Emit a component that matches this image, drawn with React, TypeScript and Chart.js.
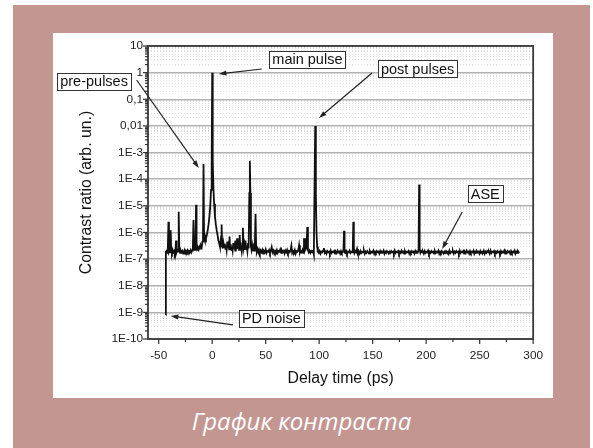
import React, { useEffect, useRef } from "react";
import { Chart, registerables } from "chart.js";

Chart.register(...registerables);

const PINK = "#c49692";
const FONT = "'Liberation Sans', Arial, sans-serif";

// ---- axes / ticks ----
const xTickValues = [-50, 0, 50, 100, 150, 200, 250, 300];
const xMinorTickValues = [-25, 25, 75, 125, 175, 225, 275];
const yTickValues = [10, 1, 0.1, 0.01, 1e-3, 1e-4, 1e-5, 1e-6, 1e-7, 1e-8, 1e-9, 1e-10];
const yTickLabels = ["10", "1", "0,1", "0,01", "1E-3", "1E-4", "1E-5", "1E-6", "1E-7", "1E-8", "1E-9", "1E-10"];
const yMinorMantissas = [2, 3, 4, 5, 6, 7, 8, 9];

// ---- trace: [delay (ps), contrast ratio] ----
const pdNoiseDrop: [number, number][] = [
  [-43.5, 8e-10], [-43.3, 1.9e-7],
];

const prePulseTrace: [number, number][] = [
  [-42.8, 2.0e-7], [-42.2, 1.7e-7], [-41.5, 2.1e-7], [-40.9, 2.5e-6], [-40.4, 1.9e-7], [-39.8, 2.2e-7],
  [-39.3, 1.8e-7], [-38.8, 1.2e-6], [-38.3, 2.0e-7], [-37.6, 1.7e-7], [-37.0, 2.2e-7], [-36.3, 1.8e-7],
  [-35.6, 2.0e-7], [-35.0, 1.6e-7], [-34.3, 2.1e-7], [-33.8, 5.0e-7], [-33.3, 1.8e-7], [-32.6, 2.2e-7],
  [-31.9, 1.9e-7], [-31.3, 6.0e-6], [-30.7, 2.0e-7], [-30.0, 1.7e-7], [-29.3, 2.1e-7], [-28.6, 1.8e-7],
  [-27.9, 2.0e-7], [-27.2, 1.6e-7], [-26.5, 1.9e-7], [-25.8, 2.2e-7], [-25.1, 1.7e-7], [-24.4, 2.0e-7],
  [-23.7, 1.8e-7], [-23.0, 2.1e-7], [-22.3, 1.7e-7], [-21.6, 2.0e-7], [-20.9, 1.9e-7], [-20.2, 2.2e-7],
  [-19.5, 1.8e-7], [-18.8, 2.1e-7], [-18.1, 2.3e-7], [-17.5, 2.9e-6], [-16.9, 2.2e-7], [-16.2, 2.6e-7],
  [-15.6, 2.4e-7], [-15.1, 1.1e-5], [-14.6, 2.5e-7], [-14.0, 2.2e-7], [-13.3, 2.7e-7], [-12.6, 2.3e-7],
  [-11.9, 2.9e-7], [-11.2, 2.5e-7], [-10.5, 3.2e-7], [-9.8, 2.8e-7], [-9.1, 4.5e-7], [-8.6, 7.0e-7],
  [-8.1, 3.7e-4], [-7.6, 6.0e-7], [-7.0, 5.0e-7], [-6.4, 7.0e-7],
];

const mainPulseTrace: [number, number][] = [
  [-5.8, 6.0e-7], [-5.0, 8.0e-7], [-4.2, 1.2e-6], [-3.4, 2.0e-6], [-2.6, 4.0e-6], [-1.8, 1.0e-5],
  [-1.1, 4.0e-5], [-0.5, 3.0e-4], [0.0, 1.0], [0.5, 5.0e-4], [1.1, 5.0e-5], [1.8, 1.2e-5],
  [2.6, 4.0e-6], [3.4, 2.0e-6], [4.2, 1.2e-6], [5.0, 8.0e-7], [5.8, 5.0e-7],
];

const postMainTrace: [number, number][] = [
  [6.5, 4.0e-7], [7.2, 3.0e-7], [7.8, 4.5e-7], [8.3, 3.0e-7], [8.8, 2.0e-6], [9.3, 3.5e-7],
  [9.9, 2.5e-7], [10.5, 4.0e-7], [11.1, 2.8e-7], [11.7, 3.8e-7], [12.3, 2.4e-7], [12.9, 3.3e-7],
  [13.5, 2.2e-7], [14.1, 4.5e-7], [14.7, 2.6e-7], [15.3, 3.5e-7], [15.8, 2.3e-7], [16.2, 7.0e-7],
  [16.7, 2.5e-7], [17.3, 3.6e-7], [17.9, 2.2e-7], [18.5, 3.0e-7], [19.1, 2.1e-7], [19.7, 4.0e-7],
  [20.3, 2.4e-7], [20.9, 3.2e-7], [21.5, 2.1e-7], [22.1, 5.0e-7], [22.7, 2.3e-7], [23.3, 6.0e-7],
  [23.9, 2.5e-7], [24.5, 3.4e-7], [25.1, 2.2e-7], [25.7, 8.0e-7], [26.3, 2.4e-7], [26.9, 3.1e-7],
  [27.5, 2.1e-7], [28.1, 4.0e-7], [28.7, 1.5e-6], [29.3, 2.6e-7], [29.9, 3.6e-7], [30.5, 2.2e-7],
  [31.1, 5.0e-7], [31.7, 2.4e-7], [32.3, 3.0e-7], [32.9, 2.0e-7], [33.5, 4.0e-7], [34.1, 2.5e-7],
  [34.7, 3.0e-5], [35.2, 4.9e-4], [35.7, 3.0e-5], [36.2, 3.0e-7], [36.8, 2.2e-7], [37.4, 3.2e-7],
  [38.0, 2.0e-7], [38.6, 2.8e-7], [39.2, 2.1e-7], [39.9, 3.5e-7], [40.5, 5.0e-6], [41.1, 2.6e-7],
  [41.7, 1.9e-7], [42.4, 2.4e-7], [43.1, 1.8e-7], [43.8, 2.2e-7], [44.5, 1.7e-7],
];

const midTrace: [number, number][] = [
  [45.2, 2.1e-7], [46.0, 1.8e-7], [46.8, 2.2e-7], [47.6, 1.6e-7], [48.4, 2.0e-7], [49.2, 1.8e-7],
  [50.0, 2.3e-7], [50.8, 1.7e-7], [51.6, 2.0e-7], [52.4, 1.9e-7], [53.2, 2.2e-7], [54.0, 1.7e-7],
  [54.8, 2.1e-7], [55.6, 2.8e-7], [56.4, 1.8e-7], [57.2, 2.1e-7], [58.0, 1.6e-7], [58.8, 2.0e-7],
  [59.6, 1.8e-7], [60.4, 2.2e-7], [61.2, 1.7e-7], [62.0, 2.0e-7], [62.8, 1.9e-7], [63.6, 2.3e-7],
  [64.4, 1.7e-7], [65.2, 2.1e-7], [66.0, 1.8e-7], [66.8, 2.0e-7], [67.6, 1.6e-7], [68.4, 2.1e-7],
  [69.2, 1.8e-7], [70.0, 2.2e-7], [70.8, 1.7e-7], [71.6, 2.0e-7], [72.4, 1.8e-7], [73.2, 2.1e-7],
  [74.0, 3.2e-7], [74.8, 1.7e-7], [75.6, 2.0e-7], [76.4, 1.8e-7], [77.2, 2.2e-7], [78.0, 1.6e-7],
  [78.8, 2.0e-7], [79.6, 1.9e-7], [80.4, 2.1e-7], [81.2, 3.3e-7], [82.0, 1.7e-7], [82.8, 2.0e-7],
  [83.6, 1.8e-7], [84.4, 2.2e-7], [85.2, 1.7e-7], [85.8, 6.0e-7], [86.4, 2.0e-7], [87.0, 2.3e-7],
  [87.4, 6.0e-7], [88.0, 2.4e-7], [88.9, 1.6e-6], [89.5, 2.2e-7], [90.2, 1.8e-7], [91.0, 2.1e-7],
  [91.8, 1.7e-7], [92.6, 2.0e-7], [93.4, 1.8e-7], [94.2, 2.2e-7], [95.0, 1.5e-7],
];

const postPulseTrace: [number, number][] = [
  [95.6, 2.6e-5], [96.3, 1.0e-2], [96.9, 2.6e-5], [97.5, 1.0e-6], [98.1, 3.0e-7], [98.8, 1.9e-7],
];

const lateTrace: [number, number][] = [
  [99.6, 1.7e-7], [100.4, 2.0e-7], [101.2, 1.6e-7], [102.0, 1.9e-7], [102.8, 1.8e-7], [103.6, 2.1e-7],
  [104.4, 2.6e-7], [105.2, 1.7e-7], [106.0, 1.9e-7], [106.8, 1.6e-7], [107.6, 2.0e-7], [108.4, 1.8e-7],
  [109.2, 1.9e-7], [110.0, 1.6e-7], [110.8, 2.1e-7], [111.6, 1.7e-7], [112.4, 1.9e-7], [113.2, 1.8e-7],
  [114.0, 2.0e-7], [114.8, 1.6e-7], [115.6, 1.9e-7], [116.4, 1.7e-7], [117.2, 2.1e-7], [118.0, 1.8e-7],
  [118.8, 1.9e-7], [119.6, 1.6e-7], [120.4, 2.0e-7], [121.2, 1.7e-7], [122.0, 1.9e-7], [122.7, 2.1e-7],
  [123.2, 1.15e-6], [123.7, 1.8e-7], [124.4, 1.7e-7], [125.2, 2.0e-7], [126.0, 1.6e-7], [126.8, 1.9e-7],
  [127.6, 1.8e-7], [128.4, 2.1e-7], [129.2, 1.7e-7], [130.0, 1.9e-7], [130.8, 1.8e-7], [131.4, 2.4e-7],
  [131.9, 2.5e-6], [132.4, 2.6e-7], [133.0, 1.7e-7], [133.8, 2.0e-7], [134.6, 1.8e-7], [135.4, 2.4e-7],
  [136.2, 1.7e-7], [137.0, 1.9e-7], [137.8, 1.6e-7], [138.6, 2.0e-7], [139.4, 1.7e-7], [140.2, 1.9e-7],
  [141.0, 1.8e-7], [141.8, 2.1e-7], [142.6, 1.6e-7], [143.4, 1.9e-7], [144.2, 1.7e-7], [145.0, 2.0e-7],
  [145.8, 1.8e-7], [146.6, 1.6e-7], [147.4, 2.0e-7], [148.2, 1.7e-7], [149.0, 1.9e-7], [149.8, 1.8e-7],
  [150.6, 2.1e-7], [151.4, 1.6e-7], [152.2, 1.9e-7], [153.0, 1.7e-7], [153.8, 2.0e-7], [154.6, 1.8e-7],
  [155.4, 1.9e-7], [156.2, 1.6e-7], [157.0, 2.0e-7], [157.8, 1.7e-7], [158.6, 1.9e-7], [159.4, 1.8e-7],
  [160.2, 2.1e-7], [161.0, 1.6e-7], [161.8, 1.9e-7], [162.6, 1.7e-7], [163.4, 2.0e-7], [164.2, 1.8e-7],
  [165.0, 1.6e-7], [165.8, 1.9e-7], [166.6, 1.7e-7], [167.4, 2.0e-7], [168.2, 1.8e-7], [169.0, 1.9e-7],
  [169.8, 1.6e-7], [170.6, 2.1e-7], [171.4, 1.7e-7], [172.2, 1.9e-7], [173.0, 1.8e-7], [173.8, 2.0e-7],
  [174.6, 1.6e-7], [175.4, 1.9e-7], [176.2, 1.7e-7], [177.0, 2.1e-7], [177.8, 1.8e-7], [178.6, 1.9e-7],
  [179.4, 1.6e-7], [180.2, 2.0e-7], [181.0, 1.7e-7], [181.8, 1.9e-7], [182.6, 1.8e-7], [183.4, 2.0e-7],
  [184.2, 1.6e-7], [185.0, 1.9e-7], [185.8, 1.7e-7], [186.6, 2.0e-7], [187.4, 1.8e-7], [188.2, 1.9e-7],
  [189.0, 1.6e-7], [189.8, 2.0e-7], [190.6, 1.7e-7], [191.4, 1.9e-7], [192.2, 1.8e-7], [192.9, 2.2e-7],
  [193.4, 6.3e-5], [193.9, 2.3e-7], [194.6, 1.7e-7], [195.4, 2.0e-7], [196.2, 1.8e-7], [197.0, 1.9e-7],
  [197.8, 1.6e-7], [198.6, 2.0e-7], [199.4, 1.7e-7], [200.2, 1.9e-7], [201.0, 1.8e-7], [201.8, 2.1e-7],
  [202.6, 1.6e-7], [203.4, 1.9e-7], [204.2, 1.7e-7], [205.0, 2.0e-7], [205.8, 1.8e-7], [206.6, 1.9e-7],
  [207.4, 1.6e-7], [208.2, 2.0e-7], [209.0, 1.7e-7], [209.8, 1.9e-7], [210.6, 1.8e-7], [211.4, 2.1e-7],
  [212.2, 1.6e-7], [213.0, 1.9e-7], [213.8, 1.7e-7], [214.6, 2.0e-7], [215.4, 1.8e-7], [216.2, 1.6e-7],
  [217.0, 1.9e-7], [217.8, 1.7e-7], [218.6, 2.0e-7], [219.4, 1.8e-7], [220.2, 1.9e-7], [221.0, 1.6e-7],
  [221.8, 2.1e-7], [222.6, 1.7e-7], [223.4, 1.9e-7], [224.2, 1.8e-7], [225.0, 2.0e-7], [225.8, 1.6e-7],
  [226.6, 1.9e-7], [227.4, 1.7e-7], [228.2, 2.0e-7], [229.0, 1.8e-7], [229.8, 1.9e-7], [230.6, 1.6e-7],
  [231.4, 2.1e-7], [232.2, 1.7e-7], [233.0, 1.9e-7], [233.8, 1.8e-7], [234.6, 2.0e-7], [235.4, 1.6e-7],
  [236.2, 1.9e-7], [237.0, 1.7e-7], [237.8, 2.1e-7], [238.6, 1.8e-7], [239.4, 1.9e-7], [240.2, 1.6e-7],
  [241.0, 2.0e-7], [241.8, 1.7e-7], [242.6, 1.9e-7], [243.4, 1.8e-7], [244.2, 2.1e-7], [245.0, 1.6e-7],
  [245.8, 1.9e-7], [246.6, 1.7e-7], [247.4, 2.0e-7], [248.2, 1.8e-7], [249.0, 1.9e-7], [249.8, 1.6e-7],
  [250.6, 2.0e-7], [251.4, 1.7e-7], [252.2, 1.9e-7], [253.0, 1.8e-7], [253.8, 2.1e-7], [254.6, 1.6e-7],
  [255.4, 1.9e-7], [256.2, 1.7e-7], [257.0, 2.0e-7], [257.8, 1.8e-7], [258.6, 1.9e-7], [259.4, 1.6e-7],
  [260.2, 2.1e-7], [261.0, 1.7e-7], [261.8, 1.9e-7], [262.6, 1.8e-7], [263.4, 2.0e-7], [264.2, 1.6e-7],
  [265.0, 1.9e-7], [265.8, 1.7e-7], [266.6, 2.0e-7], [267.4, 1.8e-7], [268.2, 1.9e-7], [269.0, 1.6e-7],
  [269.8, 2.0e-7], [270.6, 1.7e-7], [271.4, 1.9e-7], [272.2, 1.8e-7], [273.0, 2.1e-7], [273.8, 1.6e-7],
  [274.6, 1.9e-7], [275.4, 1.7e-7], [276.2, 2.0e-7], [277.0, 1.8e-7], [277.8, 1.9e-7], [278.6, 1.6e-7],
  [279.4, 2.0e-7], [280.2, 1.7e-7], [281.0, 1.9e-7], [281.8, 1.8e-7], [282.6, 2.1e-7], [283.4, 1.6e-7],
  [284.2, 1.9e-7], [285.0, 1.7e-7], [285.8, 2.0e-7], [286.6, 1.8e-7], [287.0, 1.9e-7],
];

// ---- annotations (data coordinates) ----
const annotationTexts = ["main pulse", "pre-pulses", "post pulses", "ASE", "PD noise"];
const annotationBoxes: [number, number][] = [[89.0, 3.25], [-110.4, 0.465], [192.0, 1.37], [255.2, 2.78e-5], [55.3, 5.9e-10]];
const arrowStarts: [number, number][] = [[46.4, 1.37], [-70.6, 0.53], [149.4, 0.969], [233.7, 5.87e-6], [19.3, 3.37e-10]];
const arrowEnds: [number, number][] = [[6.2, 0.889], [-12.5, 2.63e-4], [99.8, 0.0198], [215.0, 2.4e-7], [-38.8, 7.3e-10]];

const isDecade = (v: number) => {
  const l = Math.log10(v);
  return Math.abs(l - Math.round(l)) < 1e-6;
};

const yGridValues: number[] = (() => {
  const out: number[] = [];
  for (let e = -10; e <= 1; e++) {
    out.push(Math.pow(10, e));
    if (e < 1) yMinorMantissas.forEach((m) => out.push(m * Math.pow(10, e)));
  }
  return out;
})();

const overlayPlugin = {
  id: "overlay",
  afterDatasetsDraw(chart: any) {
    const { ctx, chartArea: a, scales } = chart;
    const xs = scales.x;
    const ys = scales.y;
    ctx.save();
    // frame
    ctx.strokeStyle = "#3a3a3a";
    ctx.lineWidth = 1.8;
    ctx.strokeRect(a.left, a.top, a.right - a.left, a.bottom - a.top);
    // y ticks (outside, left)
    ctx.lineWidth = 1.2;
    ctx.strokeStyle = "#333";
    yGridValues.forEach((v) => {
      const y = ys.getPixelForValue(v);
      const len = isDecade(v) ? 5 : 3;
      ctx.beginPath();
      ctx.moveTo(a.left - len, y);
      ctx.lineTo(a.left, y);
      ctx.stroke();
    });
    // x ticks (outside, bottom)
    xTickValues.forEach((v) => {
      const x = xs.getPixelForValue(v);
      ctx.beginPath();
      ctx.moveTo(x, a.bottom);
      ctx.lineTo(x, a.bottom + 5);
      ctx.stroke();
    });
    xMinorTickValues.forEach((v) => {
      const x = xs.getPixelForValue(v);
      ctx.beginPath();
      ctx.moveTo(x, a.bottom);
      ctx.lineTo(x, a.bottom + 3);
      ctx.stroke();
    });
    // arrows
    ctx.strokeStyle = "#222";
    ctx.fillStyle = "#222";
    ctx.lineWidth = 1.2;
    arrowStarts.forEach((s, i) => {
      const e = arrowEnds[i];
      const x1 = xs.getPixelForValue(s[0]);
      const y1 = ys.getPixelForValue(s[1]);
      const x2 = xs.getPixelForValue(e[0]);
      const y2 = ys.getPixelForValue(e[1]);
      const ang = Math.atan2(y2 - y1, x2 - x1);
      const L = 8;
      const W = 0.32;
      ctx.beginPath();
      ctx.moveTo(x1, y1);
      ctx.lineTo(x2 - Math.cos(ang) * 5, y2 - Math.sin(ang) * 5);
      ctx.stroke();
      ctx.beginPath();
      ctx.moveTo(x2, y2);
      ctx.lineTo(x2 - L * Math.cos(ang - W), y2 - L * Math.sin(ang - W));
      ctx.lineTo(x2 - L * Math.cos(ang + W), y2 - L * Math.sin(ang + W));
      ctx.closePath();
      ctx.fill();
    });
    // boxes
    ctx.font = `14.5px ${FONT}`;
    ctx.textAlign = "center";
    ctx.textBaseline = "middle";
    annotationTexts.forEach((t, i) => {
      const cx = xs.getPixelForValue(annotationBoxes[i][0]);
      const cy = ys.getPixelForValue(annotationBoxes[i][1]);
      const w = ctx.measureText(t).width + 6;
      const h = 17;
      ctx.fillStyle = "#fff";
      ctx.fillRect(Math.round(cx - w / 2) + 0.5, Math.round(cy - h / 2) + 0.5, Math.round(w), h);
      ctx.strokeStyle = "#333";
      ctx.lineWidth = 1;
      ctx.strokeRect(Math.round(cx - w / 2) + 0.5, Math.round(cy - h / 2) + 0.5, Math.round(w), h);
      ctx.fillStyle = "#111";
      ctx.fillText(t, cx, cy + 1);
    });
    ctx.restore();
  },
};

export default function App() {
  const ref = useRef<HTMLCanvasElement | null>(null);
  useEffect(() => {
    if (!ref.current) return;
    const trace = [
      ...pdNoiseDrop,
      ...prePulseTrace,
      ...mainPulseTrace,
      ...postMainTrace,
      ...midTrace,
      ...postPulseTrace,
      ...lateTrace,
    ].map(([x, y]) => ({ x, y }));
    const tickFont = { family: FONT, size: 11.8 };
    const titleFont = { family: FONT, size: 15.8 };
    const chart = new Chart(ref.current, {
      type: "line",
      data: {
        datasets: [
          {
            data: trace,
            borderColor: "#111",
            borderWidth: 1.8,
            pointRadius: 0,
            tension: 0,
            fill: false,
          },
        ],
      },
      options: {
        responsive: false,
        animation: false,
        events: [],
        layout: { padding: { left: 20, top: 13, right: 19, bottom: 0 } },
        plugins: { legend: { display: false }, tooltip: { enabled: false } },
        scales: {
          x: {
            type: "linear",
            min: -60,
            max: 300,
            afterBuildTicks: (s: any) => {
              s.ticks = xTickValues.map((v) => ({ value: v }));
            },
            afterFit: (s: any) => {
              s.height = 59;
            },
            ticks: {
              autoSkip: false,
              maxRotation: 0,
              padding: 10,
              font: tickFont,
              color: "#222",
              callback: (v: any) => String(v),
            },
            grid: { display: false, drawTicks: false },
            border: { display: false },
            title: {
              display: true,
              text: "Delay time (ps)",
              font: titleFont,
              color: "#111",
              padding: { top: 4, bottom: 10 },
            },
          },
          y: {
            type: "logarithmic",
            min: 1e-10,
            max: 10,
            afterBuildTicks: (s: any) => {
              s.ticks = yGridValues.map((v) => ({ value: v }));
            },
            afterFit: (s: any) => {
              s.width = 75;
            },
            ticks: {
              autoSkip: false,
              padding: 5,
              font: tickFont,
              color: "#222",
              callback: (v: any) => {
                const i = yTickValues.findIndex((t) => Math.abs(Math.log10(t) - Math.log10(v)) < 1e-6);
                return i >= 0 ? yTickLabels[i] : "";
              },
            },
            grid: {
              drawTicks: false,
              color: (c: any) => (c.tick && isDecade(c.tick.value) ? "#b2b2b2" : "#dedede"),
              lineWidth: (c: any) => (c.tick && isDecade(c.tick.value) ? 1.5 : 1),
            },
            border: {
              display: false,
              dash: (c: any) => (c.tick && isDecade(c.tick.value) ? [] : [1, 2]),
            },
            title: {
              display: true,
              text: "Contrast ratio (arb. un.)",
              font: titleFont,
              color: "#111",
              padding: { top: 4, bottom: 4 },
            },
          },
        },
      },
      plugins: [overlayPlugin],
    } as any);
    return () => chart.destroy();
  }, []);

  return (
    <div style={{ position: "absolute", left: 0, top: 0, width: 593, height: 448, background: "#fff", overflow: "hidden" }}>
      <div style={{ position: "absolute", left: 13, top: 5, width: 577, height: 443, background: PINK }} />
      <div style={{ position: "absolute", left: 53, top: 33, width: 500, height: 365, background: "#fff" }}>
        <canvas ref={ref} width={500} height={365} style={{ display: "block", width: 500, height: 365 }} />
      </div>
      <div
        style={{
          position: "absolute",
          left: 13,
          width: 577,
          top: 404,
          textAlign: "center",
          color: "#fff",
          fontFamily: "'Open Sans', sans-serif",
          fontStyle: "italic",
          fontSize: 24,
          lineHeight: "normal",
        }}
      >
        График контраста
      </div>
    </div>
  );
}
